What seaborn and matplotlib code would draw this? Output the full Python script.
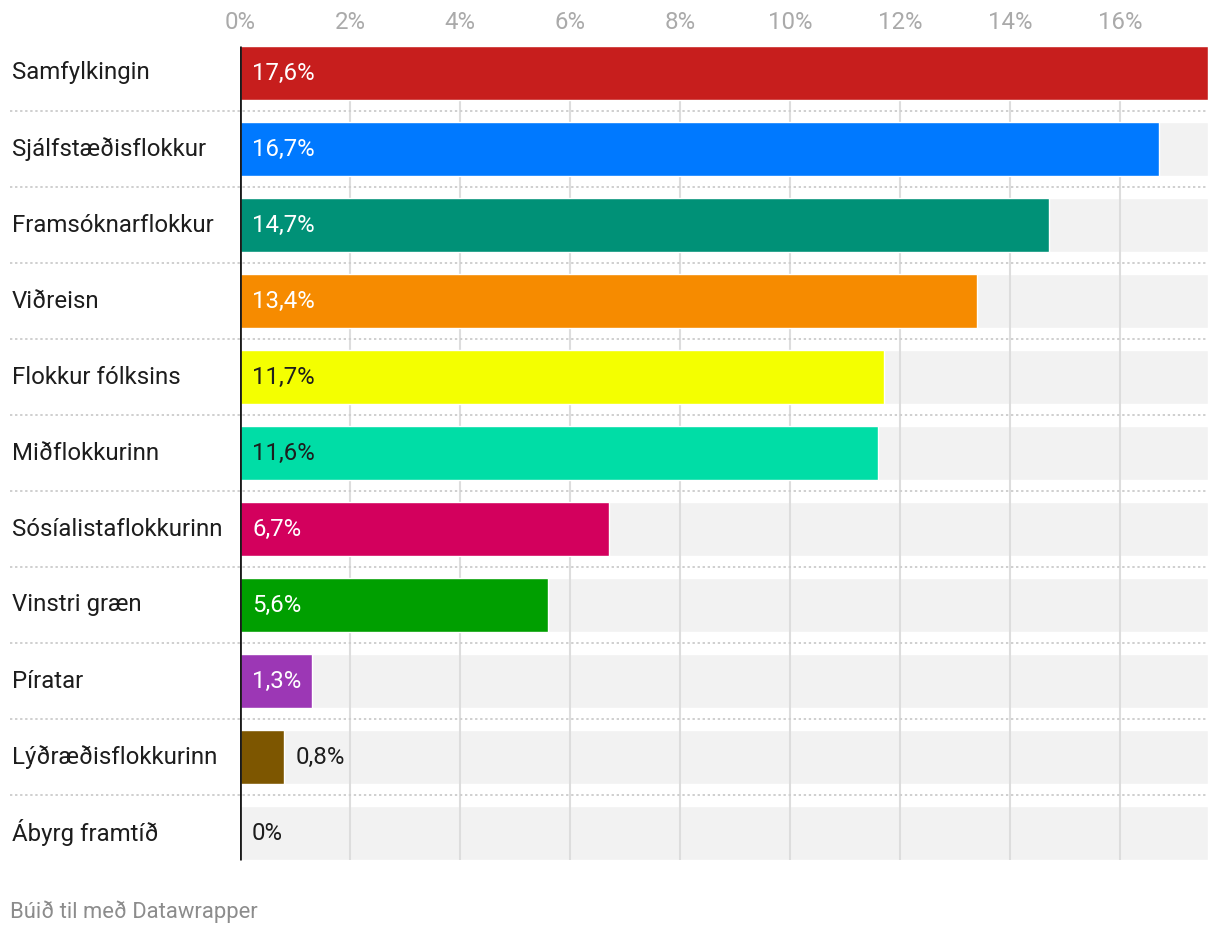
import matplotlib
matplotlib.use("Agg")
import matplotlib.pyplot as plt
import matplotlib.transforms as mtransforms
import pandas as pd
import seaborn as sns

# gögn
parties = ["Samfylkingin", "Sjálfstæðisflokkur", "Framsóknarflokkur", "Viðreisn",
           "Flokkur fólksins", "Miðflokkurinn", "Sósíalistaflokkurinn",
           "Vinstri græn", "Píratar", "Lýðræðisflokkurinn", "Ábyrg framtíð"]
values = [17.6, 16.7, 14.7, 13.4, 11.7, 11.6, 6.7, 5.6, 1.3, 0.8, 0.0]
colors = ["#c71e1d", "#0079ff", "#009177", "#f68b00", "#f4ff00", "#00dda6",
          "#d3005d", "#009f00", "#9c37b5", "#7d5600", "#cccccc"]
dark_label = ["Flokkur fólksins", "Miðflokkurinn"]
tick_vals = [0, 2, 4, 6, 8, 10, 12, 14, 16]
tick_labels = ["0%", "2%", "4%", "6%", "8%", "10%", "12%", "14%", "16%"]

sns.set_theme(style="white")
plt.rcParams['font.family'] = ['Roboto', 'DejaVu Sans']

df = pd.DataFrame({"party": parties, "value": values})
df["bg"] = max(values)

W, H = 1220, 936
fig = plt.figure(figsize=(W / 100, H / 100), dpi=100)
ax = fig.add_axes([240 / W, 1 - 871 / H, 968 / W, 836 / H])

bar_h = 54 / 76
xmax = max(values)
fs = 17.3

# grár bakgrunnur
sns.barplot(data=df, y="party", x="bg", color="#f2f2f2", width=bar_h,
            saturation=1, ax=ax, zorder=0)
# gildi
sns.barplot(data=df, y="party", x="value", hue="party", palette=colors,
            width=bar_h, saturation=1, legend=False, ax=ax, zorder=2)

ax.set_xlim(0, xmax)
ax.set_ylim(len(parties) - 0.5, -0.5)

# lóðréttar hjálparlínur
for t in tick_vals[1:]:
    ax.vlines(t, -bar_h / 2, len(parties) - 1 + bar_h / 2, color="#dddddd",
              lw=1.5, zorder=1)
ax.vlines(0, -bar_h / 2, len(parties) - 1 + bar_h / 2, color="#1a1a1a",
          lw=2, zorder=4)

# punktalínur milli flokka
for i in range(len(parties) - 1):
    ax.axhline(i + 0.5, xmin=(10 - 240) / 968, xmax=1, color="#cfcfcf",
               lw=1.4, ls=(0, (1.2, 1.4)), clip_on=False, zorder=1)

for s in ax.spines.values():
    s.set_visible(False)

ax.xaxis.tick_top()
ax.set_xticks(tick_vals)
ax.set_xticklabels(tick_labels, fontsize=fs, color="#aaaaaa")
ax.tick_params(axis="x", length=0, pad=1)
ax.set_yticks([])
ax.set_xlabel("")
ax.set_ylabel("")

# nöfn flokka
trans = mtransforms.blended_transform_factory(fig.transFigure, ax.transData)
for i, p in enumerate(parties):
    ax.text(12 / W, i, p, transform=trans, ha="left", va="center",
            fontsize=fs, color="#1d1d1d")

# merkingar gilda
px = xmax / 968
for i, (p, v) in enumerate(zip(parties, values)):
    lab = "0%" if v == 0 else f"{v:.1f}".replace(".", ",") + "%"
    if v < 1:
        ax.text(v + 12 * px, i, lab, ha="left", va="center", fontsize=fs,
                color="#1d1d1d", zorder=5)
    else:
        c = "#1d1d1d" if p in dark_label else "white"
        ax.text(12 * px, i, lab, ha="left", va="center", fontsize=fs,
                color=c, zorder=5)

fig.text(10 / W, 1 - 912 / H, "Búið til með Datawrapper", ha="left",
         va="center", fontsize=15.8, color="#8c8c8c")

fig.savefig("out.png", dpi=100)
